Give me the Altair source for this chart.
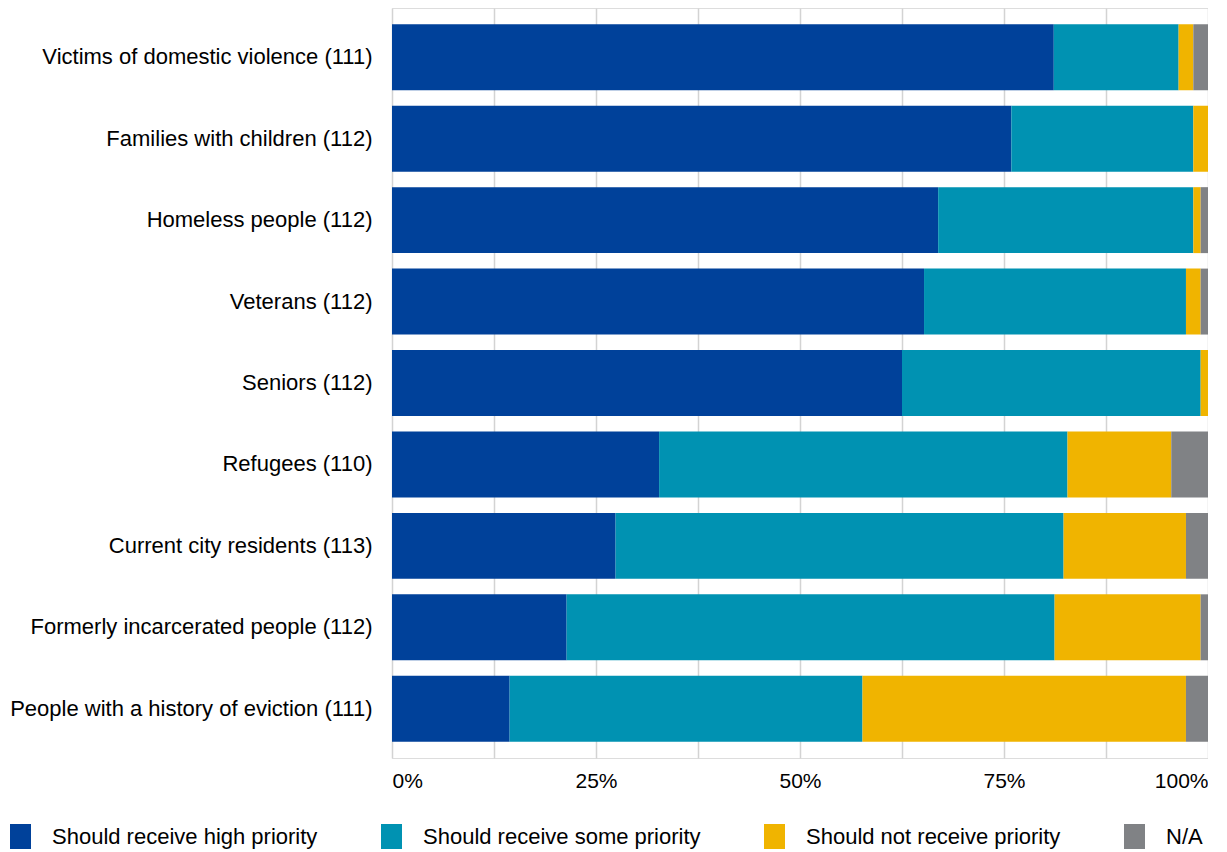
import altair as alt
import pandas as pd

groups = [
    "Victims of domestic violence (111)",
    "Families with children (112)",
    "Homeless people (112)",
    "Veterans (112)",
    "Seniors (112)",
    "Refugees (110)",
    "Current city residents (113)",
    "Formerly incarcerated people (112)",
    "People with a history of eviction (111)",
]
series = ["Should receive high priority", "Should receive some priority",
          "Should not receive priority", "N/A"]
high = [81.1, 75.9, 67.0, 65.2, 62.5, 32.7, 27.4, 21.4, 14.4]
some = [15.3, 22.3, 31.3, 32.1, 36.6, 50.0, 54.9, 59.8, 43.2]
notp = [1.8, 1.8, 0.9, 1.8, 0.9, 12.7, 15.0, 17.9, 39.6]
na = [1.8, 0.0, 0.9, 0.9, 0.0, 4.5, 2.7, 0.9, 2.7]
colors = ["#00419A", "#0092B2", "#F0B400", "#808285"]

rows = []
for vals, s_i in zip([high, some, notp, na], range(4)):
    for g, v in zip(groups, vals):
        rows.append({"group": g, "series": series[s_i], "order": s_i, "value": v})
df = pd.DataFrame(rows)

font = "Liberation Sans"
chart = alt.Chart(df).mark_bar().encode(
    y=alt.Y("group:N", sort=groups, title=None,
            scale=alt.Scale(paddingInner=0.19, paddingOuter=0.2),
            axis=alt.Axis(domain=False, ticks=False, grid=False, labelPadding=20,
                          labelFontSize=22, labelFont=font, labelColor="#000000",
                          labelLimit=500)),
    x=alt.X("value:Q", stack="normalize", title=None,
            scale=alt.Scale(domain=[0, 1], nice=False),
            axis=alt.Axis(values=[i / 8 for i in range(9)], domain=False, ticks=False,
                          grid=True, gridColor="#d3d3d3", gridWidth=1.5,
                          labelExpr="(round(datum.value*100) % 25 == 0) ? format(datum.value, '.0%') : ''",
                          labelFlush=True, labelPadding=12, labelFontSize=21,
                          labelFont=font, labelColor="#000000")),
    color=alt.Color("series:N", scale=alt.Scale(domain=series, range=colors), title=None,
                    legend=alt.Legend(orient="none", direction="horizontal", columns=4,
                                      legendX=-384, legendY=816,
                                      symbolType="M-0.84,-1H0.84V1H-0.84Z",
                                      symbolSize=625, symbolStrokeWidth=0,
                                      symbolOpacity=1,
                                      labelFontSize=22, labelFont=font, labelColor="#000000",
                                      labelOffset=19, columnPadding=61, labelLimit=500)),
    order=alt.Order("order:Q"),
).properties(width=816, height=750).configure_view(stroke=None).configure(
    padding={"left": 0, "top": 0, "right": 0, "bottom": 0})

chart.save("out.html", embed_options={"renderer": "svg", "actions": False})
